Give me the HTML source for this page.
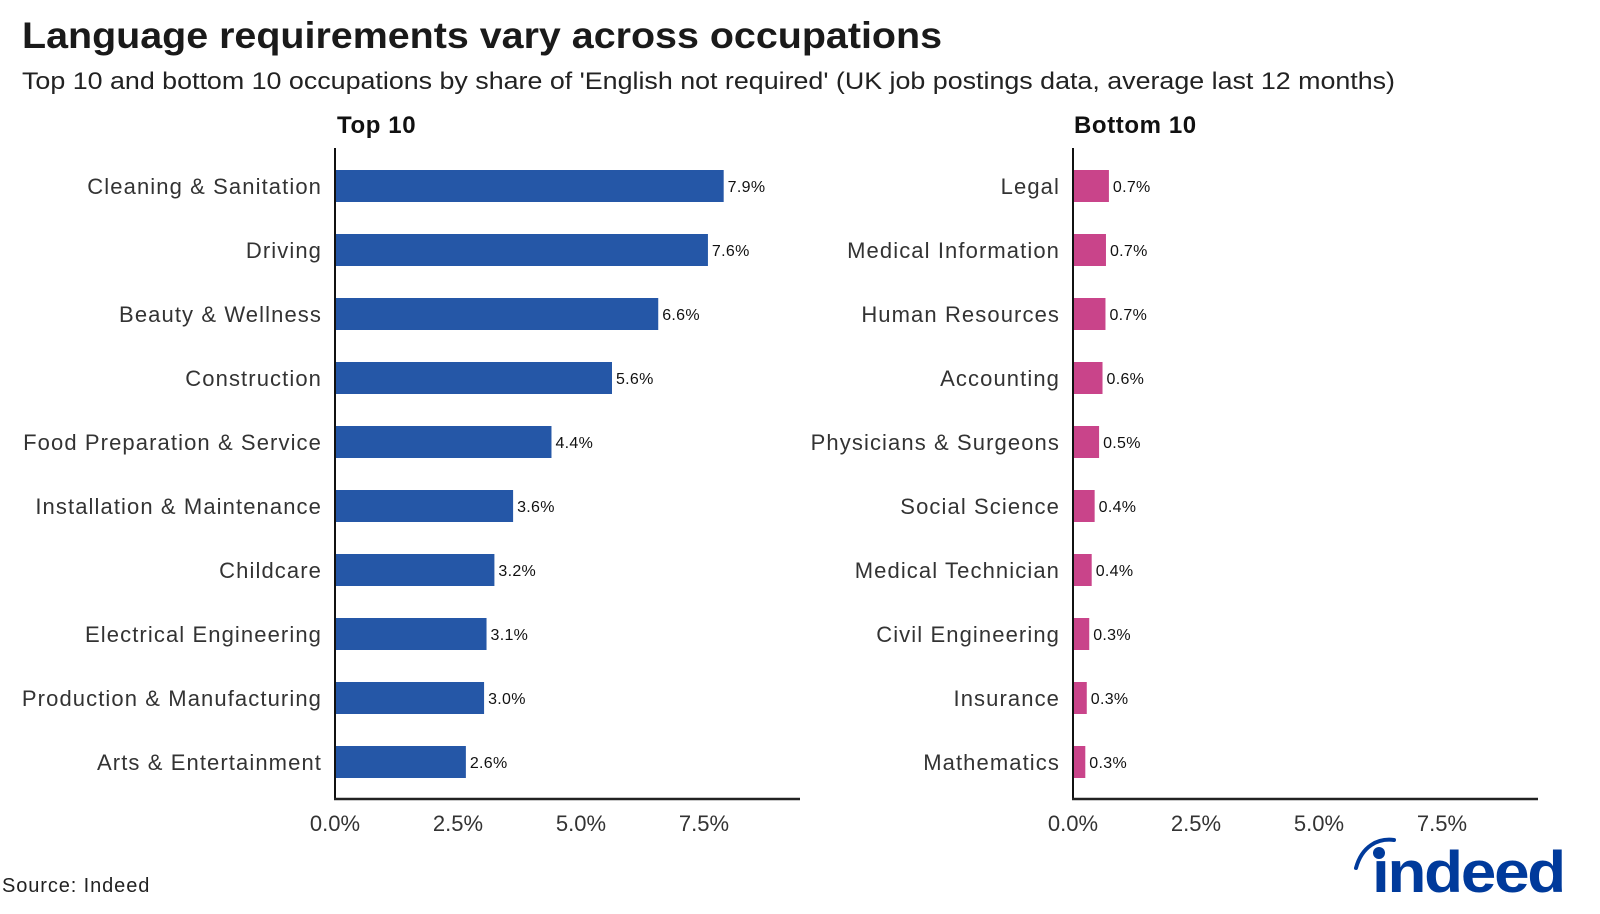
<!DOCTYPE html>
<html><head><meta charset="utf-8"><style>
html,body{margin:0;padding:0;background:#fff;}
svg{display:block;font-family:"Liberation Sans",sans-serif;}
</style></head><body>
<svg id="chart" width="1600" height="914" viewBox="0 0 1600 914">
<text x="22" y="48" font-size="37" font-weight="bold" fill="#1a1a1a" textLength="920" lengthAdjust="spacingAndGlyphs">Language requirements vary across occupations</text>
<text x="22" y="89" font-size="24" fill="#222" textLength="1373" lengthAdjust="spacingAndGlyphs">Top 10 and bottom 10 occupations by share of 'English not required' (UK job postings data, average last 12 months)</text>
<text x="337" y="133" font-size="24" font-weight="bold" fill="#111" letter-spacing="0.6">Top 10</text>
<text x="1074" y="133" font-size="24" font-weight="bold" fill="#111" letter-spacing="0.6">Bottom 10</text>
<g id="left"></g>
<g id="right"></g>
<text x="2" y="892" font-size="20" fill="#222" letter-spacing="0.9">Source: Indeed</text>
<g>
<path d="M1356,868 C1362,846 1378,838 1394,840" fill="none" stroke="#003a9b" stroke-width="4" stroke-linecap="round"/>
<text x="1372" y="892" font-size="58" font-weight="bold" fill="#003a9b" letter-spacing="-2" textLength="192" lengthAdjust="spacingAndGlyphs">ındeed</text>
<circle cx="1379" cy="853" r="6" fill="#003a9b"/>
</g>
</svg>
<script>
const topCats=["Cleaning & Sanitation","Driving","Beauty & Wellness","Construction","Food Preparation & Service","Installation & Maintenance","Childcare","Electrical Engineering","Production & Manufacturing","Arts & Entertainment"];
const topVals=[7.9,7.58,6.57,5.63,4.4,3.62,3.24,3.08,3.03,2.66];
const topLabels=["7.9%","7.6%","6.6%","5.6%","4.4%","3.6%","3.2%","3.1%","3.0%","2.6%"];
const botCats=["Legal","Medical Information","Human Resources","Accounting","Physicians & Surgeons","Social Science","Medical Technician","Civil Engineering","Insurance","Mathematics"];
const botVals=[0.73,0.67,0.66,0.6,0.53,0.44,0.38,0.33,0.28,0.25];
const botLabels=["0.7%","0.7%","0.7%","0.6%","0.5%","0.4%","0.4%","0.3%","0.3%","0.3%"];
const ticks=[0,2.5,5,7.5];
const tickLabels=["0.0%","2.5%","5.0%","7.5%"];
const NS="http://www.w3.org/2000/svg";
function mk(parent,tag,attrs,txt){const e=document.createElementNS(NS,tag);for(const k in attrs)e.setAttribute(k,attrs[k]);if(txt!=null)e.textContent=txt;parent.appendChild(e);return e;}
function panel(g,x0,xEnd,cats,vals,labels,color){
  const pxPer=(123*3)/7.5;
  const xs=v=>x0+v*pxPer;
  const ys=i=>186+i*64;
  cats.forEach((c,i)=>{
    const t=mk(g,'text',{x:x0-13,y:ys(i)+8,'font-size':22,fill:'#333','text-anchor':'end','letter-spacing':1.1},c);
    
    
    const r=mk(g,'rect',{x:x0,y:ys(i)-16,width:xs(vals[i])-x0,height:32,fill:color});
    
    
    const v=mk(g,'text',{x:xs(vals[i])+4,y:ys(i)+6,'font-size':16,fill:'#111','letter-spacing':0.3},labels[i]);
    
    
  });
  const ya=mk(g,'line',{x1:x0,y1:148,x2:x0,y2:800,stroke:'#111','stroke-width':2});
  
  
  const xa=mk(g,'line',{x1:x0-1,y1:799,x2:xEnd,y2:799,stroke:'#222','stroke-width':2.5});
  
  
  ticks.forEach((t,i)=>{
    const l=mk(g,'text',{x:xs(t),y:831,'font-size':22,fill:'#333','text-anchor':'middle'},tickLabels[i]);
    
    
  });
}
panel(document.getElementById('left'),335,800,topCats,topVals,topLabels,'#2557a7');
panel(document.getElementById('right'),1073,1538,botCats,botVals,botLabels,'#c9448a');
</script>
</body></html>
